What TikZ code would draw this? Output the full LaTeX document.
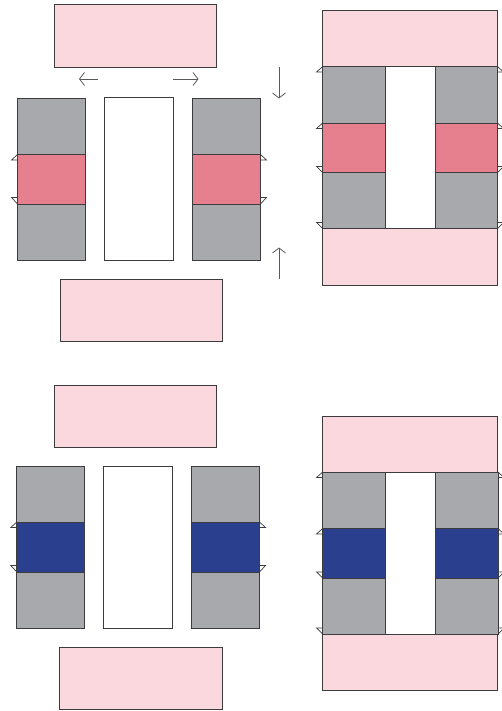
\documentclass[tikz,border=0pt]{standalone}
\usepackage{xcolor}
\usepackage{tikz}
\usetikzlibrary{arrows.meta}
\definecolor{plpink}{RGB}{251,215,222}
\definecolor{plgray}{RGB}{167,169,172}
\definecolor{plred}{RGB}{230,127,142}
\definecolor{plblue}{RGB}{43,63,143}
\definecolor{plline}{RGB}{60,60,62}
\tikzset{
  plate/.style={draw=plline, line width=0.9pt},
  tab/.style={draw=plline, line width=0.7pt, fill=white},
  pusharrow/.style={draw=plline!85, line width=0.8pt, -{Straight Barb[length=5pt,width=13pt]}}
}
\begin{document}
\begin{tikzpicture}[x=1pt, y=-1pt]
\useasboundingbox (0,0) rectangle (502,711);

% ---- top left: apart ----
\draw[plate, fill=plpink] (54,4) rectangle (216.5,67);
\draw[plate, fill=plpink] (60,279) rectangle (222.5,341);
\draw[plate, fill=white] (104.8,97.7) rectangle (173.5,260);

% side tabs
\foreach \y/\d in {160/-5.5, 197.5/6.5}{
  \draw[tab] (17.5,\y) -- (11.5,\y) -- (17.5,\y+\d) -- cycle;
  \draw[tab] (260.5,\y) -- (266.5,\y) -- (260.5,\y+\d) -- cycle;
}
\foreach \x in {17.5,192.5}{
  \draw[plate, fill=plgray] (\x,98) rectangle (\x+68,260);
  \draw[plate, fill=plred] (\x,154.5) rectangle (\x+68,204);
}

% arrows
\coordinate (leftA) at (98,79);
\coordinate (leftB) at (79,79);
\coordinate (rightA) at (173,79);
\coordinate (rightB) at (198.5,79);
\coordinate (downA) at (279,67);
\coordinate (downB) at (279,98.5);
\coordinate (upA) at (279,279);
\coordinate (upB) at (279,247.5);
\draw[pusharrow] (leftA) -- (leftB);
\draw[pusharrow] (rightA) -- (rightB);
\draw[pusharrow] (downA) -- (downB);
\draw[pusharrow] (upA) -- (upB);

% ---- top right: closed ----
\foreach \y/\d in {72/-5.5, 128.5/-5.5, 166.5/6, 222.5/6}{
  \draw[tab] (322.7,\y) -- (316.5,\y) -- (322.7,\y+\d) -- cycle;
  \draw[tab] (497.5,\y) -- (503.5,\y) -- (497.5,\y+\d) -- cycle;
}
\draw[plate, fill=plpink] (322.7,10.5) rectangle (497.5,66.5);
\draw[plate, fill=plpink] (322.7,228.5) rectangle (497.5,285);
\draw[plate, fill=white] (385,66.5) rectangle (435.5,228.5);
\foreach \xa/\xb in {322.7/385, 435.5/497.5}{
  \draw[plate, fill=plgray] (\xa,66.5) rectangle (\xb,228.5);
  \draw[plate, fill=plred] (\xa,123) rectangle (\xb,172.5);
}

% ---- bottom left: apart ----
\draw[plate, fill=plpink] (54,385) rectangle (216.5,447);
\draw[plate, fill=plpink] (59.5,647) rectangle (222,709);
\draw[plate, fill=white] (103.5,466) rectangle (172.5,628);

\foreach \y/\d in {527.5/-5.5, 565.5/6.5}{
  \draw[tab] (16.8,\y) -- (10.8,\y) -- (16.8,\y+\d) -- cycle;
  \draw[tab] (259.5,\y) -- (265.5,\y) -- (259.5,\y+\d) -- cycle;
}
\foreach \x in {16.8,191.5}{
  \draw[plate, fill=plgray] (\x,466) rectangle (\x+68,628);
  \draw[plate, fill=plblue] (\x,522) rectangle (\x+68,572);
}

% ---- bottom right: closed ----
\foreach \y/\d in {477.5/-5.5, 534/-5.5, 572/6, 628/6}{
  \draw[tab] (322.7,\y) -- (316.5,\y) -- (322.7,\y+\d) -- cycle;
  \draw[tab] (498,\y) -- (504,\y) -- (498,\y+\d) -- cycle;
}
\draw[plate, fill=plpink] (322.7,416) rectangle (497.5,472);
\draw[plate, fill=plpink] (322.7,634.5) rectangle (497.5,690.5);
\draw[plate, fill=white] (385,472) rectangle (435.5,634.5);
\foreach \xa/\xb in {322.7/385, 435.5/498}{
  \draw[plate, fill=plgray] (\xa,472) rectangle (\xb,634.5);
  \draw[plate, fill=plblue] (\xa,528.5) rectangle (\xb,578);
}
\end{tikzpicture}
\end{document}
